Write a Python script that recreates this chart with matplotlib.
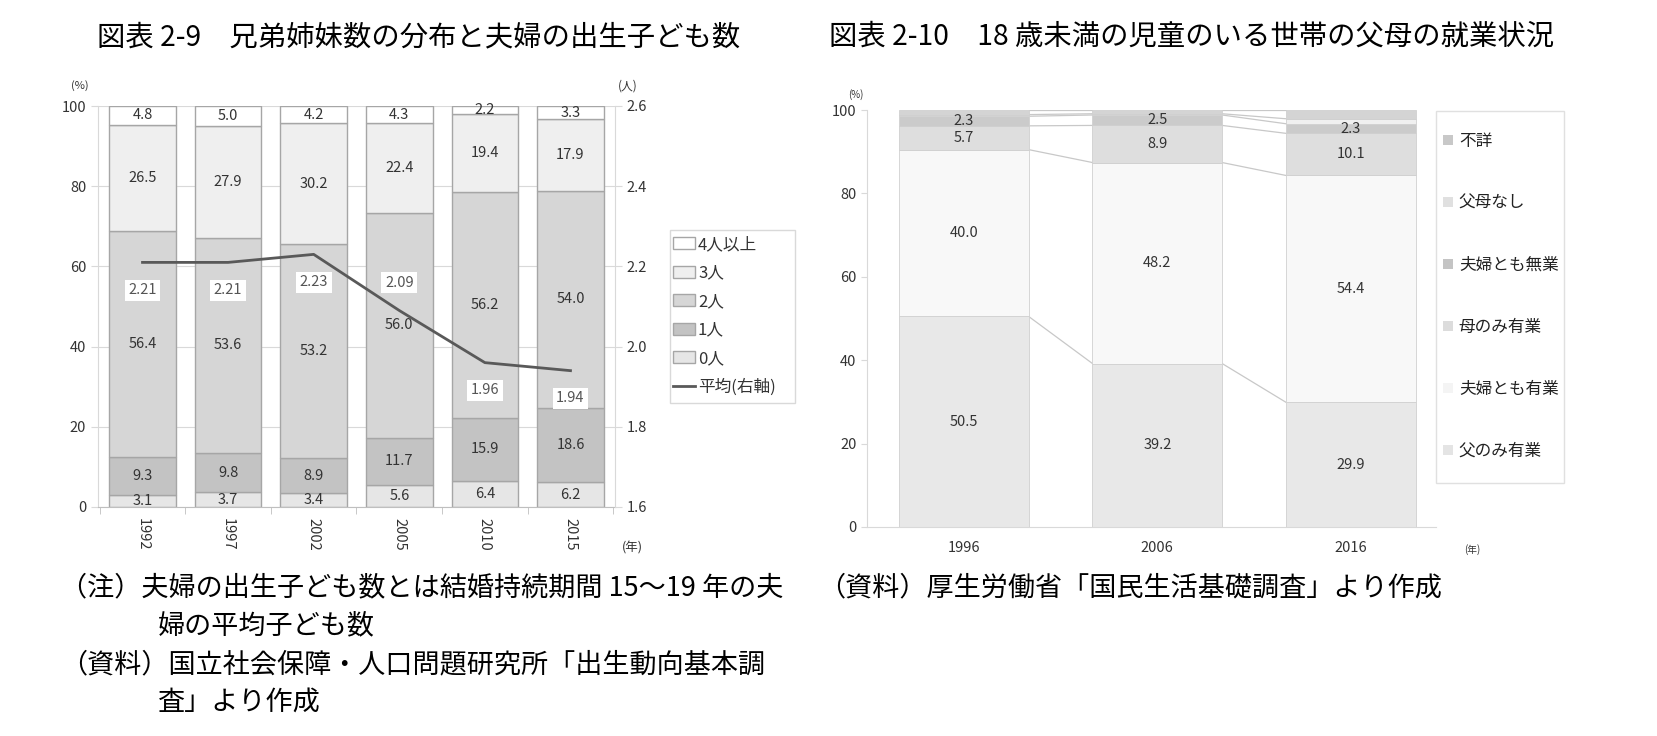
import numpy as np
import matplotlib
matplotlib.use("Agg")
import matplotlib.pyplot as plt
from matplotlib.patches import Patch, Rectangle
from matplotlib.lines import Line2D

plt.rcParams['font.family'] = ['Noto Sans CJK JP', 'DejaVu Sans']

W, H = 1658, 736

# ---- data: 図表 2-9
years1 = ['1992', '1997', '2002', '2005', '2010', '2015']
zero = [3.1, 3.7, 3.4, 5.6, 6.4, 6.2]
one = [9.3, 9.8, 8.9, 11.7, 15.9, 18.6]
two = [56.4, 53.6, 53.2, 56.0, 56.2, 54.0]
three = [26.5, 27.9, 30.2, 22.4, 19.4, 17.9]
four_plus = [4.8, 5.0, 4.2, 4.3, 2.2, 3.3]
avg_children = [2.21, 2.21, 2.23, 2.09, 1.96, 1.94]
labels1 = ['0人', '1人', '2人', '3人', '4人以上']

# ---- data: 図表 2-10
years2 = ['1996', '2006', '2016']
father_only = [50.5, 39.2, 29.9]
both_work = [40.0, 48.2, 54.4]
mother_only = [5.7, 8.9, 10.1]
neither_work = [2.3, 2.5, 2.3]
no_parents = [0.4, 0.3, 1.2]
unknown = [1.1, 0.9, 2.1]
labels2 = ['父のみ有業', '夫婦とも有業', '母のみ有業', '夫婦とも無業', '父母なし', '不詳']

fig = plt.figure(figsize=(W / 100, H / 100), dpi=100)
fig.patch.set_facecolor('white')


def box(l, r, t, b):
    return [l / W, 1 - b / H, (r - l) / W, (b - t) / H]


def frame(l, r, t, b, color):
    # legend frame drawn in figure pixels
    fig.add_artist(Rectangle((l / W, 1 - b / H), (r - l) / W, (b - t) / H,
                             transform=fig.transFigure, fill=False, edgecolor=color, linewidth=1))


grid = '#d9d9d9'

# =================== left chart ===================
ax1 = fig.add_axes(box(98, 615, 106, 507))
x1 = np.arange(len(years1))
series1 = [zero, one, two, three, four_plus]
colors1 = ['#e6e6e6', '#c3c3c3', '#d6d6d6', '#efefef', '#ffffff']
bottom = np.zeros(len(years1))
for vals, col in zip(series1, colors1):
    vals = np.array(vals)
    ax1.bar(x1, vals, 0.78, bottom=bottom, color=col, edgecolor='#a6a6a6', linewidth=1, zorder=2)
    for xi, b, v in zip(x1, bottom, vals):
        ax1.text(xi, b + v / 2, f'{v:.1f}', ha='center', va='center', fontsize=10.5, color='#333333', zorder=4)
    bottom += vals

ax1.set_xlim(-0.52, 5.52)
ax1.set_ylim(0, 100)
ax1.set_yticks([0, 20, 40, 60, 80, 100])
ax1.set_xticks(x1)
ax1.set_xticklabels(years1, rotation=-90, fontsize=10.5, color='#333333')
ax1.set_xticks(np.arange(-0.5, 6, 1), minor=True)
ax1.tick_params(axis='x', which='major', length=0, pad=8)
ax1.tick_params(axis='x', which='minor', length=5, color='#bfbfbf')
ax1.tick_params(axis='y', length=5, color=grid, labelsize=10.5, labelcolor='#333333')
ax1.yaxis.grid(True, color=grid, linewidth=0.8, zorder=0)
for s in ['top', 'right']:
    ax1.spines[s].set_visible(False)
ax1.spines['left'].set_color(grid)
ax1.spines['bottom'].set_color('#bfbfbf')

ax1b = ax1.twinx()
ax1b.set_ylim(1.6, 2.6)
ax1b.set_yticks([1.6, 1.8, 2.0, 2.2, 2.4, 2.6])
ax1b.set_yticklabels(['1.6', '1.8', '2.0', '2.2', '2.4', '2.6'])
ax1b.tick_params(axis='y', length=5, color=grid, labelsize=10.5, labelcolor='#333333')
for s in ['top', 'left', 'bottom']:
    ax1b.spines[s].set_visible(False)
ax1b.spines['right'].set_color(grid)
ax1b.plot(x1, avg_children, color='#595959', linewidth=2, zorder=3)
for i, v in enumerate(avg_children):
    dy = 20 if years1[i] == '2005' else -20
    ax1b.annotate(f'{v:.2f}', (x1[i], v), xytext=(0, dy), textcoords='offset points',
                  ha='center', va='center', fontsize=10.5, color='#555555',
                  bbox=dict(boxstyle='square,pad=0.25', fc='white', ec='none'), zorder=5)

fig.text(80 / W, 1 - 86 / H, '(%)', fontsize=8, color='#333333', ha='center', va='center')
fig.text(628 / W, 1 - 86 / H, '(人)', fontsize=8.5, color='#333333', ha='center', va='center')
fig.text(632 / W, 1 - 548 / H, '(年)', fontsize=9, color='#333333', ha='center', va='center')

handles1 = [Patch(facecolor=c, edgecolor='#a6a6a6', label=l)
            for c, l in zip(colors1[::-1], labels1[::-1])]
handles1.append(Line2D([0], [0], color='#595959', linewidth=2, label='平均(右軸)'))
frame(670, 795, 230, 403, grid)
leg1 = fig.legend(handles=handles1, loc='upper left', bbox_to_anchor=(673 / W, 1 - 236 / H),
                  fontsize=12, frameon=False,
                  handlelength=1.3, handleheight=0.7, handletextpad=0.2,
                  labelspacing=0.69, borderpad=0, borderaxespad=0)
for t in leg1.get_texts():
    t.set_color('#333333')

# =================== right chart ===================
ax2 = fig.add_axes(box(867, 1436, 110, 527))
x2 = np.arange(len(years2))
w2 = 0.67
series2 = [father_only, both_work, mother_only, neither_work, no_parents, unknown]
colors2 = ['#e8e8e8', '#f8f8f8', '#dedede', '#cbcbcb', '#f0f0f0', '#d4d4d4']
bottom = np.zeros(len(years2))
tops = []
for k, (vals, col) in enumerate(zip(series2, colors2)):
    vals = np.array(vals)
    ax2.bar(x2, vals, w2, bottom=bottom, color=col, edgecolor='#d0d0d0', linewidth=0.6, zorder=2)
    if k < 4:
        for xi, b, v in zip(x2, bottom, vals):
            ax2.text(xi, b + v / 2, f'{v:.1f}', ha='center', va='center', fontsize=10.5, color='#333333', zorder=4)
    bottom = bottom + vals
    tops.append(bottom.copy())

# series connector lines
for top in tops:
    for j in range(len(years2) - 1):
        ax2.plot([x2[j] + w2 / 2, x2[j + 1] - w2 / 2], [top[j], top[j + 1]],
                 color='#c8c8c8', linewidth=0.9, zorder=1)

ax2.set_xlim(-0.5, 2.44)
ax2.set_ylim(0, 100)
ax2.set_yticks([0, 20, 40, 60, 80, 100])
ax2.set_xticks(x2)
ax2.set_xticklabels(years2, fontsize=10.5, color='#333333')
ax2.tick_params(axis='x', length=0, pad=10)
ax2.tick_params(axis='y', length=4, color=grid, labelsize=10.5, labelcolor='#333333')
for s in ['top', 'right']:
    ax2.spines[s].set_visible(False)
ax2.spines['left'].set_color(grid)
ax2.spines['bottom'].set_color(grid)

fig.text(856 / W, 1 - 95 / H, '(%)', fontsize=7, color='#333333', ha='center', va='center')
fig.text(1472 / W, 1 - 550 / H, '(年)', fontsize=7, color='#333333', ha='center', va='center')

handles2 = [Patch(facecolor=c, edgecolor='none', label=l)
            for c, l in zip(['#c8c8c8', '#e0e0e0', '#c4c4c4', '#dcdcdc', '#f4f4f4', '#e4e4e4'], labels2[::-1])]
frame(1436, 1564, 111, 483, '#e0e0e0')
leg2 = fig.legend(handles=handles2, loc='upper left', bbox_to_anchor=(1443 / W, 1 - 133 / H),
                  fontsize=12, frameon=False,
                  handlelength=0.6, handleheight=0.6, handletextpad=0.35,
                  labelspacing=2.7, borderpad=0, borderaxespad=0)
for t in leg2.get_texts():
    t.set_color('#222222')

# =================== titles and notes ===================
fs = 19.5
fig.text(97 / W, 1 - 37 / H, '図表 2-9　兄弟姉妹数の分布と夫婦の出生子ども数', fontsize=20.4, va='center', ha='left')
fig.text(829 / W, 1 - 37 / H, '図表 2-10　18 歳未満の児童のいる世帯の父母の就業状況', fontsize=20.4, va='center', ha='left')

fig.text(60 / W, 1 - 588 / H, '（注）夫婦の出生子ども数とは結婚持続期間 15〜19 年の夫', fontsize=fs, va='center', ha='left')
fig.text(158 / W, 1 - 626 / H, '婦の平均子ども数', fontsize=fs, va='center', ha='left')
fig.text(60 / W, 1 - 665 / H, '（資料）国立社会保障・人口問題研究所「出生動向基本調', fontsize=fs, va='center', ha='left')
fig.text(158 / W, 1 - 702 / H, '査」より作成', fontsize=fs, va='center', ha='left')
fig.text(818 / W, 1 - 588 / H, '（資料）厚生労働省「国民生活基礎調査」より作成', fontsize=fs, va='center', ha='left')

fig.savefig('out.png', dpi=100, facecolor='white')
